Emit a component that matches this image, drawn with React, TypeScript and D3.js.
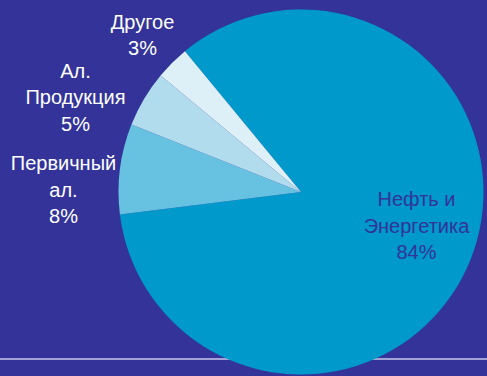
import React from "react";
import * as d3 from "d3";

const categories = ["Нефть и Энергетика", "Первичный ал.", "Ал. Продукция", "Другое"];
const values = [84, 8, 5, 3];
const labelLines = [
  ["Нефть и", "Энергетика", "84%"],
  ["Первичный", "ал.", "8%"],
  ["Ал.", "Продукция", "5%"],
  ["Другое", "3%"],
];
const colors = ["#0099CC", "#66C2E0", "#B0DCED", "#DDF0F7"];

const W = 487;
const H = 376;
const cx = 301;
const cy = 192;
const R = 182.5;
const startDeg = -39.5;

// label anchor positions (center x, first baseline y)
const labelPos: [number, number, string][] = [
  [416.5, 206, "#333399"],
  [63.5, 170, "#FFFFFF"],
  [75.5, 77.5, "#FFFFFF"],
  [142.5, 28.5, "#FFFFFF"],
];

export default function App() {
  const pie = d3
    .pie<number>()
    .sort(null)
    .value((d) => d)
    .startAngle((startDeg * Math.PI) / 180)
    .endAngle((startDeg * Math.PI) / 180 + 2 * Math.PI);
  const arcs = pie(values);
  const arc = d3.arc<d3.PieArcDatum<number>>().innerRadius(0).outerRadius(R);

  return (
    <svg
      width={W}
      height={H}
      style={{ position: "absolute", left: 0, top: 0, display: "block" }}
    >
      <rect x={0} y={0} width={W} height={H} fill="#333399" />
      <line x1={0} x2={W} y1={359} y2={359} stroke="#A3A3D6" strokeWidth={2} />
      <g transform={`translate(${cx},${cy})`}>
        {arcs.map((a, i) => (
          <path key={categories[i]} d={arc(a) || ""} fill={colors[i]} />
        ))}
      </g>
      {labelLines.map((lines, i) => (
        <text
          key={categories[i]}
          x={labelPos[i][0]}
          y={labelPos[i][1]}
          fill={labelPos[i][2]}
          fontFamily="'Liberation Sans', Arial, sans-serif"
          fontSize={20}
          textAnchor="middle"
        >
          {lines.map((l, j) => (
            <tspan key={j} x={labelPos[i][0]} dy={j === 0 ? 0 : 26.7}>
              {l}
            </tspan>
          ))}
        </text>
      ))}
    </svg>
  );
}
